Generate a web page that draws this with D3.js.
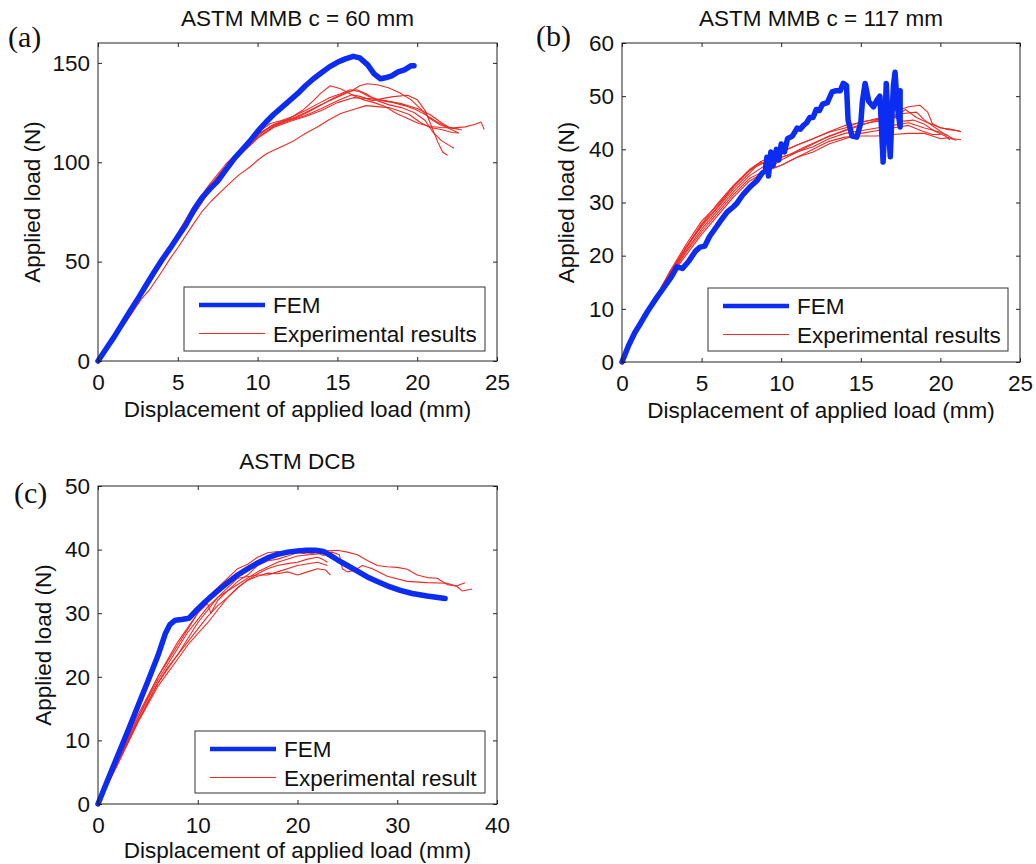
<!DOCTYPE html>
<html lang="en">
<head>
  <meta charset="UTF-8">
  <title>Applied load vs displacement: FEM and experiments</title>
  <script src="https://d3js.org/d3.v7.min.js"></script>
  <style>
    body {
      margin: 0;
      background: white;
    }

    svg text {
      font-family: "Liberation Sans", Arial, sans-serif;
      fill: #111;
    }

    .tag {
      font-family: "Liberation Serif", "Times New Roman", serif;
    }
  </style>
</head>
<body>
  <svg id="chart" width="1036" height="864"></svg>
  <script>
    // ---- tick values ----
    const xTicksA = [0, 5, 10, 15, 20, 25];
    const yTicksA = [0, 50, 100, 150];
    const xTicksB = [0, 5, 10, 15, 20, 25];
    const yTicksB = [0, 10, 20, 30, 40, 50, 60];
    const xTicksC = [0, 10, 20, 30, 40];
    const yTicksC = [0, 10, 20, 30, 40, 50];

    // ---- (a) ASTM MMB c = 60 mm ----
    const femA = [[0, 0], [0.5, 6], [1, 12], [1.5, 18.5], [2, 25], [2.55, 32], [3, 38], [3.5, 44.5], [4, 50.8], [4.5, 56.5],
      [5, 62.5], [5.5, 68.5], [6, 76], [6.5, 82], [7, 86.5], [7.5, 90.5], [8, 96], [8.6, 102.5], [9, 106], [9.5, 110.5],
      [10, 115.5], [10.5, 120], [11, 124], [11.5, 127.5], [12, 131], [12.5, 134.5], [13, 138.5], [13.5, 142], [14, 145],
      [14.5, 148], [15, 150.3], [15.5, 152], [16, 153.3], [16.4, 152.5], [16.9, 149], [17.3, 144.5], [17.7, 142], [18, 142.5],
      [18.4, 143.5], [18.8, 145.5], [19.2, 146.5], [19.6, 148.5], [19.8, 148.5]];
    const expA1 = [[0, 0], [1, 11], [2, 22.5], [2.7, 31], [3.2, 35.5], [4, 45], [4.6, 52.5], [5, 57], [5.9, 68], [6.5, 75],
      [7.1, 80.5], [7.8, 86], [8.6, 92], [8.9, 94], [9.5, 97.5], [10, 101], [10.5, 104], [11, 106], [11.7, 108.5], [12.3, 111],
      [13.1, 115], [13.8, 118], [14.5, 121.5], [15.2, 124.5], [16, 126.5], [16.8, 128.5], [17.5, 128], [18.2, 127.5],
      [18.8, 126], [19.5, 124], [20.2, 120], [20.8, 117.5], [21.5, 116.5], [22.2, 115], [22.6, 114.7]];
    const expA2 = [[0, 0], [1, 12], [2, 25], [3, 38], [4, 51], [5, 64], [6, 77], [7, 88], [8, 98], [9, 106], [10, 113],
      [10.8, 118], [11.5, 120], [12, 122], [12.8, 126], [13.5, 131], [14, 135], [14.55, 138.5], [15.2, 137], [15.9, 134],
      [16.6, 131.5], [17.3, 130], [18, 128], [18.7, 124.5], [19.4, 122], [20.1, 119.5], [20.8, 118], [21.5, 117.5],
      [22.3, 117.3], [23, 117.8], [23.6, 119], [24, 120.3], [24.2, 116.4]];
    const expA3 = [[0, 0], [1, 12], [2, 24.5], [3, 37.5], [4, 50.5], [5, 63], [6, 75], [7, 87], [8, 97], [9, 106], [10, 114],
      [11, 119], [11.6, 121], [12.3, 122], [13, 124.5], [13.8, 128], [14.5, 131], [15.2, 133.5], [15.9, 136], [16.4, 138.5],
      [16.85, 139.5], [17.5, 139], [18.2, 137.5], [18.9, 135], [19.6, 131.5], [20.2, 127], [20.8, 122], [21.4, 119],
      [22, 117], [22.6, 114.7]];
    const expA4 = [[0, 0], [1, 12], [2, 24], [3, 37], [4, 50], [5, 62], [6, 74.5], [7, 86], [8, 96.5], [9, 105], [10, 112.5],
      [11, 118], [12, 121], [13, 123.5], [14, 127], [15, 131], [15.9, 134], [16.5, 133], [17.2, 131], [17.8, 132], [18.5, 133],
      [19.4, 133.7], [20, 131.5], [20.5, 126], [20.9, 118], [21.3, 110], [21.6, 105], [21.9, 103.5]];
    const expA5 = [[0, 0], [1, 12], [2, 24.5], [3, 37], [4, 50], [5, 63], [6, 76], [7, 87.5], [8, 97.5], [9, 106], [10, 114],
      [11, 118.5], [12, 121.5], [13, 125], [14, 129], [14.8, 132.5], [15.5, 135], [16.2, 136.5], [16.8, 134.5], [17.5, 131],
      [18.2, 129], [19, 127.5], [19.8, 125], [20.5, 121], [21, 115], [21.5, 111], [22, 108.5], [22.3, 107]];
    const expA6 = [[0, 0], [1, 12], [2, 25], [3, 38.5], [4, 51.5], [5, 64.5], [6, 78], [7, 89], [8, 99], [9, 107], [10, 115],
      [10.8, 119.5], [11.5, 121], [12.2, 123], [13, 126], [13.8, 129.5], [14.5, 132.5], [15.2, 134.5], [15.8, 136.5],
      [16.4, 135.5], [17, 133], [17.8, 131], [18.5, 130], [19.2, 128.5], [19.9, 126.5], [20.5, 124], [21.2, 120.5],
      [21.8, 118], [22.3, 117], [22.6, 117.2]];
    const expA7 = [[0, 0], [1, 11.5], [2, 24], [3, 36.5], [4, 49], [5, 61], [6, 73.5], [7, 85.5], [8, 96], [9, 104.5], [10, 112],
      [11, 117.5], [12, 120.5], [13, 123], [14, 126], [15, 130], [16, 132.5], [17, 132], [18, 131], [19, 129.5], [20, 127],
      [20.8, 124], [21.5, 120], [22, 117.5], [22.8, 116.2]];

    // ---- (b) ASTM MMB c = 117 mm ----
    const femB = [[0, 0], [0.4, 3], [0.8, 5.5], [1.15, 7.2], [1.6, 9.5], [2.2, 12.2], [2.7, 14.3], [3.1, 16], [3.45, 17.9],
      [3.8, 17.6], [4.2, 19], [4.6, 20.8], [4.9, 21.6], [5.2, 21.8], [5.5, 23.6], [5.9, 25.3], [6.2, 26.6], [6.6, 28.2],
      [7, 29.2], [7.2, 29.8], [7.6, 31.5], [8, 32.8], [8.5, 34.2], [8.8, 35.5], [9, 36], [9.1, 38.5], [9.2, 35], [9.35, 39.5],
      [9.5, 37], [9.7, 40], [9.85, 38], [10, 41], [10.2, 39.5], [10.4, 42], [10.7, 42.5], [11, 44], [11.2, 43.8], [11.4, 44.5],
      [11.6, 45], [11.8, 46], [12, 46], [12.2, 47.5], [12.4, 47.3], [12.6, 48.5], [12.9, 48.8], [13, 49.5], [13.2, 50.8],
      [13.4, 51], [13.7, 51], [13.9, 52.4], [14.1, 52], [14.2, 45.5], [14.45, 42.5], [14.75, 42.3],
      [15, 45], [15.1, 49], [15.27, 52.4], [15.5, 49], [15.8, 48], [16, 49.2], [16.2, 50], [16.3, 44], [16.4, 37.6], [16.5, 44],
      [16.6, 52.4], [16.7, 46], [16.85, 38.6], [16.95, 46], [17.05, 52], [17.15, 54.5], [17.3, 48], [17.47, 44.2], [17.47, 51]];
    const expB1 = [[0, 0], [1, 6], [2, 11.5], [3, 16.5], [4, 21.5], [5, 25.5], [6, 29], [7, 32.5], [8, 35.5], [8.7, 37.7],
      [9.2, 36.5], [10, 38], [11, 39.5], [12, 41], [13, 42.5], [14, 43.5], [15, 44.5], [16, 45.5], [17, 46], [17.5, 47.5],
      [18, 48], [18.7, 48.3], [19.2, 47], [19.5, 44.8], [20, 44], [20.6, 43.8], [21.3, 43.3]];
    const expB2 = [[0, 0], [1, 6], [2, 11.5], [3, 17], [4, 22], [5, 26.5], [6, 29.5], [7, 33], [8, 36], [8.7, 37.2], [9.5, 38],
      [10.5, 39], [11.5, 40.5], [12.5, 41.8], [13.5, 43], [14.5, 44.2], [15.5, 45], [16.5, 45.5], [17.5, 46.7], [18.5, 47],
      [19, 45.5], [19.7, 44], [20.2, 43], [20.8, 42], [21.3, 41.8]];
    const expB3 = [[0, 0], [1, 6], [2, 11.5], [3, 16.2], [4, 20.5], [5, 24.5], [6, 28], [7, 31.5], [8, 34.5], [9, 36], [10, 37],
      [11, 38.5], [12, 40], [13, 41.5], [14, 42.3], [15, 42.5], [16, 42.5], [17, 42.8], [18, 43], [19, 43], [19.5, 42.5],
      [20, 42], [20.5, 42.2], [21, 41.7]];
    const expB4 = [[0, 0], [1, 6], [2, 11.5], [3, 16.8], [4, 21.5], [5, 26], [6, 29.8], [7, 33.2], [8, 36.2], [8.8, 37.8],
      [10, 39.5], [11, 40.8], [12, 42], [13, 43.3], [14, 44.5], [15, 45], [16, 45.8], [17, 46.2], [17.7, 45.3], [18.3, 45.5],
      [19, 44.7], [19.6, 43.5], [20.3, 42.5], [20.6, 41.8]];
    const expB5 = [[0, 0], [1, 6], [2, 11.5], [3, 16.5], [4, 21.2], [5, 25.8], [6, 29.2], [7, 33], [8, 36], [8.5, 37.2],
      [9, 37.5], [10, 39.5], [11, 40.8], [12, 42], [13, 43.2], [14, 44], [15, 45.2], [16, 45.6], [17, 45.8], [17.8, 47.5],
      [18.5, 46], [19.2, 45], [19.8, 44.3], [20.5, 43.7], [21.2, 43.5]];
    const expB6 = [[0, 0], [1, 6], [2, 11.5], [3, 16.3], [4, 20.8], [5, 25], [6, 28.5], [7, 32], [8, 35], [9, 37], [10, 38.5],
      [11, 39.5], [12, 40.5], [13, 42], [14, 43], [15, 43.5], [16, 44], [17, 44.5], [18, 45], [19, 44], [20, 43.2], [20.5, 42.5]];
    const expB7 = [[0, 0], [1, 6], [2, 11.5], [3, 16], [4, 20], [5, 24], [6, 27.5], [7, 31], [8, 34], [9, 35.8], [10, 37],
      [11, 38.5], [12, 39.5], [13, 41], [14, 42], [15, 43], [16, 43.5], [17, 44], [18, 44.5], [18.8, 43.5], [19.5, 42.8], [20, 42.8]];

    // ---- (c) ASTM DCB ----
    const femC = [[0, 0], [1, 3.9], [2, 7.7], [3, 11.5], [4, 15.4], [5, 19.3], [6, 23.3], [6.75, 26.8], [7.2, 28.2], [7.75, 28.9],
      [8.4, 29], [9.1, 29.2], [9.9, 30.5], [10.75, 31.8], [11.9, 33.4], [13, 34.8], [14, 36], [14.9, 36.9], [16, 37.9], [17, 38.7],
      [17.9, 39.2], [19, 39.6], [20, 39.8], [20.9, 39.9], [21.8, 39.9], [22.6, 39.7], [23.3, 39.1], [24, 38.4], [25, 37.5],
      [26, 36.6], [27, 35.7], [28, 35], [29, 34.3], [30.3, 33.6], [31.5, 33.1], [33, 32.7], [34.8, 32.3]];
    const expC1 = [[0, 0], [2, 7], [4, 14], [6, 20], [8, 25.5], [10, 30], [11, 32.5], [12, 34], [13, 35.5], [14, 37], [15, 37.7],
      [16, 38.8], [17, 39.5], [18, 39.7], [19, 39.4], [20, 39.5], [21, 39.8], [22, 39.5], [23, 39.8], [24, 39.9], [25, 39.6],
      [26, 39.2], [27, 38.3], [28, 37.5], [29, 37.3], [30, 37.2], [31, 36.9], [32, 36], [33, 35.6], [34, 35.5], [35, 34.5],
      [36, 34.3], [36.8, 34.8]];
    const expC2 = [[0, 0], [2, 6.5], [4, 13.5], [6, 19.5], [8, 24.5], [9, 27], [10, 29], [11, 31], [12, 32.5], [14, 34.5],
      [16, 36.5], [18, 38], [20, 39], [22, 39.3], [23.5, 39.6], [24.2, 39.2], [24.5, 37], [25, 36.5], [25.8, 36.8], [26.5, 37.5],
      [27.5, 37], [29, 35.8], [31, 35], [33, 34.8], [35, 34.7], [36, 34.2], [36.5, 33.5], [37.5, 33.8]];
    const expC3 = [[0, 0], [2, 6.5], [4, 13], [6, 19], [7, 21.5], [8, 23.5], [9, 25.5], [10, 27.5], [11, 29.5], [12, 31.2], [13, 32.5],
      [14, 34], [15, 35.2], [16, 36.2], [17, 37], [18, 37.5], [19, 37.8], [20, 38], [21, 38.5], [22, 38.8], [22.5, 38.5], [23, 38]];
    const expC4 = [[0, 0], [2, 6.3], [4, 12.8], [6, 18.5], [8, 22.8], [9, 25], [10, 26.8], [11, 28.5], [12, 30.5], [13, 32.5],
      [14, 34], [15, 35.2], [16, 35.8], [17, 36.3], [18, 36.2], [19, 36.5], [20, 36], [21, 36.5], [22, 37], [22.8, 36.8], [23.3, 36]];
    const expC5 = [[0, 0], [2, 6.8], [4, 13.5], [6, 20], [7, 22.5], [8, 25], [9, 27.5], [10, 30], [11, 31.5], [11.3, 30],
      [12, 32], [13, 33.5], [14, 35], [15, 36], [16, 37.5], [17, 38.2], [18, 38.5], [19, 39], [20, 39.5], [21, 39.3], [22, 39.5],
      [22.7, 39]];
    const expC6 = [[0, 0], [2, 6.5], [4, 13], [6, 19], [8, 23.5], [10, 28.5], [12, 32.5], [14, 35.5], [16, 36], [17, 36],
      [18, 36.5], [20, 37.5], [22, 38], [23, 37.5]];

    const femColor = '#0b2cf2';
    const expColor = '#ec2a24';

    const panels = [
      {
        tag: '(a)', tagX: 8, tagY: 47,
        title: 'ASTM MMB c = 60 mm',
        left: 98, top: 43, right: 497, bottom: 361,
        xDomain: [0, 25], yDomain: [0, 160], xTicks: xTicksA, yTicks: yTicksA,
        yLabelGap: 58, xLabelGap: 56,
        fem: femA, exp: [expA1, expA2, expA3, expA4, expA5, expA6, expA7],
        legend: { x: 184, y: 287, w: 301, h: 64, expLabel: 'Experimental results' }
      },
      {
        tag: '(b)', tagX: 536, tagY: 46,
        title: 'ASTM MMB c = 117 mm',
        left: 622, top: 43, right: 1020, bottom: 362,
        xDomain: [0, 25], yDomain: [0, 60], xTicks: xTicksB, yTicks: yTicksB,
        yLabelGap: 48, xLabelGap: 56,
        fem: femB, exp: [expB1, expB2, expB3, expB4, expB5, expB6, expB7],
        legend: { x: 708, y: 288, w: 300, h: 63, expLabel: 'Experimental results' }
      },
      {
        tag: '(c)', tagX: 14, tagY: 503,
        title: 'ASTM DCB',
        left: 98, top: 486, right: 497, bottom: 804,
        xDomain: [0, 40], yDomain: [0, 50], xTicks: xTicksC, yTicks: yTicksC,
        yLabelGap: 47, xLabelGap: 54,
        fem: femC, exp: [expC1, expC2, expC3, expC4, expC5, expC6],
        legend: { x: 195, y: 731, w: 290, h: 62, expLabel: 'Experimental result' }
      }
    ];

    const svg = d3.select('#chart');
    svg.append('rect').attr('width', 1036).attr('height', 864).attr('fill', 'white');

    panels.forEach(p => {
      const xScale = d3.scaleLinear().domain(p.xDomain).range([p.left, p.right]);
      const yScale = d3.scaleLinear().domain(p.yDomain).range([p.bottom, p.top]);
      const line = d3.line().x(d => xScale(d[0])).y(d => yScale(d[1]));
      const g = svg.append('g');

      // experimental curves under the FEM one
      g.selectAll('path.exp')
        .data(p.exp)
        .enter().append('path')
        .attr('class', 'exp')
        .attr('d', line)
        .attr('fill', 'none')
        .attr('stroke', expColor)
        .attr('stroke-width', 1.1)
        .attr('stroke-linejoin', 'round');

      g.append('path')
        .datum(p.fem)
        .attr('d', line)
        .attr('fill', 'none')
        .attr('stroke', femColor)
        .attr('stroke-width', 5.5)
        .attr('stroke-linejoin', 'round')
        .attr('stroke-linecap', 'round');

      // axes, matlab style: ticks point inward on all four sides
      const tick = 4;
      const bottomAxis = d3.axisBottom(xScale).tickValues(p.xTicks).tickSizeInner(-tick).tickSizeOuter(0).tickPadding(13.5);
      const topAxis = d3.axisTop(xScale).tickValues(p.xTicks).tickSizeInner(-tick).tickSizeOuter(0).tickFormat('');
      const leftAxis = d3.axisLeft(yScale).tickValues(p.yTicks).tickSizeInner(-tick).tickSizeOuter(0).tickPadding(8);
      const rightAxis = d3.axisRight(yScale).tickValues(p.yTicks).tickSizeInner(-tick).tickSizeOuter(0).tickFormat('');

      const axes = [
        g.append('g').attr('transform', `translate(0,${p.bottom})`).call(bottomAxis),
        g.append('g').attr('transform', `translate(0,${p.top})`).call(topAxis),
        g.append('g').attr('transform', `translate(${p.left},0)`).call(leftAxis),
        g.append('g').attr('transform', `translate(${p.right},0)`).call(rightAxis)
      ];
      axes.forEach(a => {
        a.select('.domain').remove();
        a.attr('font-size', null).attr('font-family', null);
        a.selectAll('line').attr('stroke', '#222');
        a.selectAll('text').style('font-size', '22.5px').attr('fill', '#111');
      });

      g.append('rect')
        .attr('x', p.left).attr('y', p.top)
        .attr('width', p.right - p.left).attr('height', p.bottom - p.top)
        .attr('fill', 'none').attr('stroke', '#222').attr('stroke-width', 1);

      // labels
      const cx = (p.left + p.right) / 2;
      const cy = (p.top + p.bottom) / 2;
      g.append('text')
        .attr('x', cx).attr('y', p.top - 17)
        .attr('text-anchor', 'middle')
        .style('font-size', '22.5px')
        .text(p.title);
      g.append('text')
        .attr('x', cx).attr('y', p.bottom + p.xLabelGap)
        .attr('text-anchor', 'middle')
        .style('font-size', '22.5px')
        .text('Displacement of applied load (mm)');
      g.append('text')
        .attr('transform', `translate(${p.left - p.yLabelGap},${cy}) rotate(-90)`)
        .attr('text-anchor', 'middle')
        .style('font-size', '22.5px')
        .text('Applied load (N)');
      g.append('text')
        .attr('class', 'tag')
        .attr('x', p.tagX).attr('y', p.tagY)
        .style('font-size', '30px')
        .text(p.tag);

      // legend
      const L = p.legend;
      const leg = g.append('g');
      leg.append('rect')
        .attr('x', L.x).attr('y', L.y).attr('width', L.w).attr('height', L.h)
        .attr('fill', 'white').attr('stroke', '#333').attr('stroke-width', 1);
      const rows = [
        { label: 'FEM', color: femColor, width: 4.5 },
        { label: L.expLabel, color: expColor, width: 1.1 }
      ];
      rows.forEach((r, i) => {
        const ry = L.y + 18 + i * 28.5;
        leg.append('line')
          .attr('x1', L.x + 15).attr('x2', L.x + 81)
          .attr('y1', ry).attr('y2', ry)
          .attr('stroke', r.color).attr('stroke-width', r.width);
        leg.append('text')
          .attr('x', L.x + 89).attr('y', ry + 8)
          .style('font-size', '22.5px')
          .text(r.label);
      });
    });
  </script>
</body>
</html>
